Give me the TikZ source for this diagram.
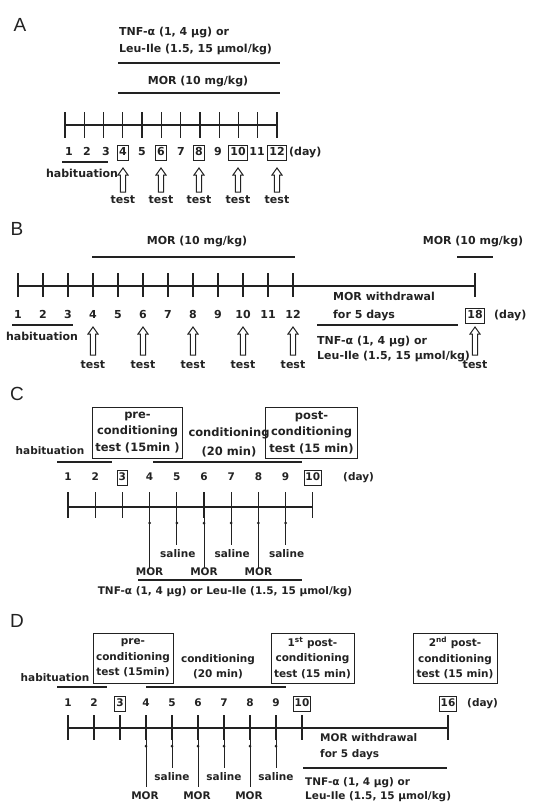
\documentclass[tikz,border=0pt]{standalone}
\usepackage{fontspec}
\setmainfont{DejaVu Sans}
\newfontfamily\panelfont{Liberation Sans}
\definecolor{ink}{HTML}{222222}
\def\fs{11}
\def\ms{11}
\newcommand\hollowup[3]{%
  \draw[harrow] (#1,#2) -- ++(5,7) -- ++(-2.4,0) -- ({#1+2.6},#3) -- ({#1-2.6},#3) -- ({#1-2.6},{#2+7}) -- ++(-2.4,0) -- cycle;}
\tikzset{
  lbl/.style={font=\bfseries\fontsize{\fs}{13}\selectfont, inner sep=0pt, text=ink, text height=7.8pt, text depth=2.2pt},
  boxnum/.style={lbl, draw=ink, line width=0.8pt, inner ysep=2.5pt, inner xsep=1.5pt},
  mtxt/.style={font=\bfseries\fontsize{\ms}{#1}\selectfont, align=center, inner sep=0pt, text=ink},
  tbox/.style={mtxt=#1, draw=ink, line width=1pt},
  panel/.style={font=\panelfont\fontsize{19}{21}\selectfont, inner sep=0pt, text=ink},
  tline/.style={draw=ink, line width=1.3pt},
  bar/.style={draw=ink, line width=1.2pt},
  hang/.style={draw=ink, line width=1pt},
  harrow/.style={draw=ink, line width=1pt, fill=white},
}
\begin{document}
\begin{tikzpicture}[x=1pt, y=-1pt]
\useasboundingbox (0,0) rectangle (555,808);
% ================= Panel A =================
\def\fs{11}
\node[panel] (pA) at (20,25) {A};
\node[lbl, anchor=west] (a-tnf1) at (119,33) {TNF-α (1, 4 μg) or};
\node[lbl, anchor=west] (a-tnf2) at (119,50) {Leu-Ile (1.5, 15 μmol/kg)};
\draw[bar] (118,63) -- (280,63);
\node[lbl] (a-mor) at (198,82) {MOR (10 mg/kg)};
\draw[bar] (118,93) -- (280,93);
\draw[tline] (65,125) -- (277,125);
\foreach \i in {0,...,11} \draw[tline] ({65+\i*19.27},112) -- ++(0,26);
\foreach \n/\x in {1/69,2/87,3/106,5/142,7/181,9/218,11/257} \node[lbl] (a-n\n) at (\x,153) {\n};
\foreach \n/\x in {4/123,6/161,8/199,10/238,12/277} \node[boxnum] (a-n\n) at (\x,153) {\n};
\node[lbl, anchor=west] (a-day) at (289,153) {(day)};
\draw[bar] (62,162) -- (108,162);
\node[lbl] (a-hab) at (82,175) {habituation};
\foreach \x in {123,161,199,238,277} {\hollowup{\x}{168}{192} \node[lbl] (a-t\x) at (\x,201) {test};}
% ================= Panel B =================
\def\fs{11}
\node[panel] (pB) at (17,229) {B};
\node[lbl] (b-mor) at (197,242) {MOR (10 mg/kg)};
\draw[bar] (92,257) -- (295,257);
\node[lbl] (b-mor2) at (473,242) {MOR (10 mg/kg)};
\draw[bar] (457,257) -- (493,257);
\draw[tline] (18,286) -- (475,286);
\foreach \i in {0,...,11} \draw[tline] ({18+\i*25},273) -- ++(0,24);
\draw[tline] (475,273) -- ++(0,24);
\foreach \n in {1,...,12} \node[lbl] (b-n\n) at ({18+(\n-1)*25},316) {\n};
\node[boxnum] (b-n18) at (475,316) {18};
\node[lbl, anchor=west] (b-day) at (494,316) {(day)};
\node[lbl, anchor=west] (b-wd1) at (333,298) {MOR withdrawal};
\node[lbl, anchor=west] (b-wd2) at (333,316) {for 5 days};
\draw[bar] (317,325) -- (458,325);
\draw[bar] (12,325) -- (73,325);
\node[lbl] (b-hab) at (42,338) {habituation};
\foreach \x in {93,143,193,243,293,475} {\hollowup{\x}{327}{355} \node[lbl] (b-t\x) at (\x,366) {test};}
\node[lbl, anchor=west] (b-tnf1) at (317,342) {TNF-α (1, 4 μg) or};
\node[lbl, anchor=west] (b-tnf2) at (317,357) {Leu-Ile (1.5, 15 μmol/kg)};
% ================= Panel C =================
\def\fs{10.5}
\def\ms{11.5}
\node[panel] (pC) at (17,394) {C};
\node[tbox=16.5, minimum width=90, minimum height=51] (c-pre) at (137.5,432.5) {pre-\\conditioning\\test (15min )};
\node[mtxt=19] (c-cond) at (229,442.5) {conditioning\\(20 min)};
\node[tbox=16.5, minimum width=92, minimum height=51] (c-post) at (311.5,432.5) {post-\\conditioning\\test (15 min)};
\node[lbl] (c-hab) at (50,452) {habituation};
\draw[bar] (57,462) -- (112,462);
\draw[bar] (153,462) -- (302,462);
\foreach \n in {1,2,4,5,6,7,8,9} \node[lbl] (c-n\n) at ({68+(\n-1)*27.2},478) {\n};
\foreach \n in {3,10} \node[boxnum] (c-n\n) at ({68+(\n-1)*27.2},478) {\n};
\node[lbl, anchor=west] (c-day) at (343,478) {(day)};
\draw[tline] (68,507) -- (313,507);
\foreach \i in {0,...,9} \draw[tline] ({68+\i*27.2},492) -- ++(0,26);
\foreach \n in {4,6,8} {\draw[hang] ({68+(\n-1)*27.2},507) -- ++(0,61); \fill[ink] ({68+(\n-1)*27.2},523) circle (1.5);
  \node[lbl] (c-m\n) at ({68+(\n-1)*27.2},573) {MOR};}
\foreach \n in {5,7,9} {\draw[hang] ({68+(\n-1)*27.2},507) -- ++(0,38); \fill[ink] ({68+(\n-1)*27.2},523) circle (1.5);
  \node[lbl] (c-s\n) at ({69+(\n-1)*27.2},555) {saline};}
\draw[bar] (138,580) -- (302,580);
\node[lbl] (c-tnf) at (225,592) {TNF-α (1, 4 μg) or Leu-Ile (1.5, 15 μmol/kg)};
% ================= Panel D =================
\def\fs{10.5}
\def\ms{10.5}
\node[panel] (pD) at (17,621) {D};
\node[tbox=15.5, minimum width=80, minimum height=50] (d-pre) at (133,658) {pre-\\conditioning\\test (15min)};
\node[mtxt=15.5] (d-cond) at (218,666.5) {conditioning\\(20 min)};
\node[tbox=15.5, minimum width=83, minimum height=50] (d-post1) at (312.5,658) {1\textsuperscript{st} post-\\conditioning\\test (15 min)};
\node[tbox=15.5, minimum width=84, minimum height=50] (d-post2) at (455,658) {2\textsuperscript{nd} post-\\conditioning\\test (15 min)};
\node[lbl] (d-hab) at (55,679) {habituation};
\draw[bar] (57,687) -- (107,687);
\draw[bar] (146,687) -- (286,687);
\foreach \n in {1,2,4,5,6,7,8,9} \node[lbl] (d-n\n) at ({68+(\n-1)*26},704) {\n};
\foreach \n in {3,10} \node[boxnum] (d-n\n) at ({68+(\n-1)*26},704) {\n};
\node[boxnum] (d-n16) at (448,704) {16};
\node[lbl, anchor=west] (d-day) at (467,704) {(day)};
\draw[tline] (68,728) -- (448,728);
\foreach \i in {0,...,9} \draw[tline] ({68+\i*26},715) -- ++(0,25);
\draw[tline] (448,715) -- ++(0,25);
\foreach \n in {4,6,8} {\draw[hang] ({68+(\n-1)*26},728) -- ++(0,59); \fill[ink] ({68+(\n-1)*26},746) circle (1.5);
  \node[lbl] (d-m\n) at ({67+(\n-1)*26},797) {MOR};}
\foreach \n in {5,7,9} {\draw[hang] ({68+(\n-1)*26},728) -- ++(0,40); \fill[ink] ({68+(\n-1)*26},746) circle (1.5);
  \node[lbl] (d-s\n) at ({68+(\n-1)*26},778) {saline};}
\node[lbl, anchor=west] (d-wd1) at (320,739) {MOR withdrawal};
\node[lbl, anchor=west] (d-wd2) at (320,755) {for 5 days};
\draw[bar] (303,768) -- (447,768);
\node[lbl, anchor=west] (d-tnf1) at (305,783) {TNF-α (1, 4 μg) or};
\node[lbl, anchor=west] (d-tnf2) at (305,797) {Leu-Ile (1.5, 15 μmol/kg)};
\end{tikzpicture}
\end{document}
